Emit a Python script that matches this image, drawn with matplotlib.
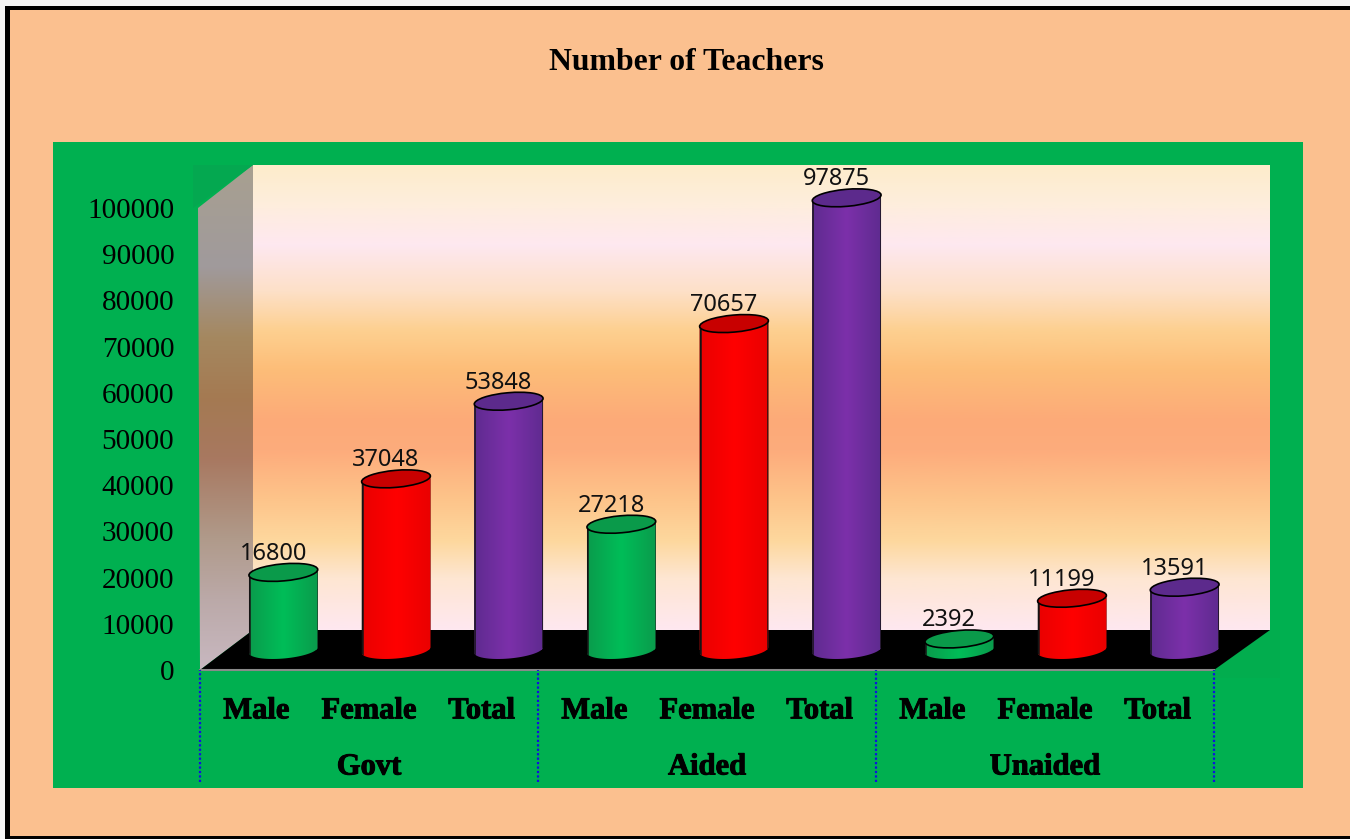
import numpy as np
import matplotlib
matplotlib.use('Agg')
import matplotlib.pyplot as plt
import matplotlib.patheffects as pe
from matplotlib.colors import LinearSegmentedColormap
from matplotlib.patches import Ellipse, Polygon, Rectangle
from matplotlib.path import Path
from matplotlib.transforms import Affine2D, IdentityTransform, blended_transform_factory

groups = ['Govt', 'Aided', 'Unaided']
categories = ['Male', 'Female', 'Total'] * 3
values = [16800, 37048, 53848, 27218, 70657, 97875, 2392, 11199, 13591]
yticks = list(range(0, 100001, 10000))

PAGE = '#fbc08f'
GREEN = '#00b050'
# centre of the body, edge of the body, top cap
shades = {
    'Male': ('#00bd58', '#0a9c4c', '#0a9a4a'),
    'Female': ('#ff0000', '#ea0000', '#c80000'),
    'Total': ('#7c30aa', '#5f2b90', '#5c2a8c'),
}
serif = 'Liberation Serif'
strike = [pe.withStroke(linewidth=0.7, foreground='black')]

fig = plt.figure(figsize=(13.5, 8.39), dpi=100, facecolor='#f6f6f6')

# backdrop, in pixel coordinates of the picture
bg = fig.add_axes([0, 0, 1, 1])
bg.set_xlim(0, 1350)
bg.set_ylim(839, 0)
bg.axis('off')
bg.add_patch(Rectangle((5, 6), 1345, 833, fc='black', ec='none'))
bg.add_patch(Rectangle((10, 10), 1340, 826, fc=PAGE, ec='none'))
bg.add_patch(Rectangle((53, 142), 1250, 646, fc=GREEN, ec='none'))
bg.add_patch(Rectangle((253, 158), 1026, 480, fc='#03ad50', ec='none', zorder=0.5))

wall_cmap = LinearSegmentedColormap.from_list('wall', [
    (0.0, '#fdeccb'), (0.075, '#feeedb'), (0.17, '#fee8f0'), (0.27, '#fde0c8'),
    (0.355, '#fdd090'), (0.44, '#fdbd78'), (0.55, '#fcaa78'), (0.615, '#fdac7c'),
    (0.72, '#fdc48a'), (0.81, '#fdd89e'), (0.89, '#fee6d2'), (1.0, '#fee8f0')])
bg.imshow(np.linspace(0, 1, 256).reshape(-1, 1), cmap=wall_cmap, aspect='auto',
          extent=(253, 1270, 630, 165), zorder=1)

side_cmap = LinearSegmentedColormap.from_list('side', [
    (0.0, '#a8a090'), (0.2, '#a09a9c'), (0.34, '#a58860'), (0.46, '#a47a52'),
    (0.58, '#a87860'), (0.74, '#b09a8a'), (0.86, '#bba9a8'), (1.0, '#c8b8c0')])
side = Polygon([(198, 208), (253, 165), (253, 630), (200, 670)], fc='none', ec='none', zorder=1)
bg.add_patch(side)
im = bg.imshow(np.linspace(0, 1, 256).reshape(-1, 1), cmap=side_cmap, aspect='auto',
               extent=(198, 253, 670, 165), zorder=1)
im.set_clip_path(side)
bg.add_patch(Polygon([(193, 208), (193, 165), (253, 165)], fc='#04a850', ec='none', zorder=2))
bg.add_patch(Polygon([(1214, 670), (1270, 630), (1280, 630), (1280, 678), (1214, 678)],
                     fc='#02ad4e', ec='none', zorder=1))
bg.add_patch(Polygon([(200, 670), (253, 630), (1270, 630), (1214, 670)], fc='black', ec='none', zorder=2))
bg.set_xlim(0, 1350)
bg.set_ylim(839, 0)

fig.text(686 / 1350, 1 - 63 / 839, 'Number of Teachers', family=serif, weight='bold',
         fontsize=22.9, ha='center', va='center')

# chart axes, front plane of the 3D box
ax = fig.add_axes([200 / 1350, (839 - 670) / 839, 1014 / 1350, 462 / 839])
ax.patch.set_alpha(0)
ax.set_xlim(0, 9)
ax.set_ylim(0, 100000)
ax.set_autoscale_on(False)
for s in ['top', 'right', 'left']:
    ax.spines[s].set_visible(False)
ax.spines['bottom'].set_color('#8a8a8a')
ax.spines['bottom'].set_linewidth(1.5)

ax.set_yticks(yticks)
ax.set_yticklabels([str(t) for t in yticks], family=serif, fontsize=21)
ax.tick_params(axis='y', length=0, pad=18.5)
xpos = np.arange(len(values)) + 0.5
ax.set_xticks(xpos)
ax.set_xticklabels(categories, family=serif, weight='bold', fontsize=22, path_effects=strike)
ax.tick_params(axis='x', length=0, pad=19)

# group labels and dotted separators below the axis
for i, g in enumerate(groups):
    ax.annotate(g, xy=(3 * i + 1.5, 0), xycoords=('data', 'axes fraction'),
                xytext=(0, -97), textcoords='offset pixels', ha='center', va='center',
                family=serif, weight='bold', fontsize=22, annotation_clip=False,
                path_effects=strike)
sep = blended_transform_factory(ax.transData, ax.transAxes)
ax.vlines([0, 3, 6, 9], -112 / 462, 0, transform=sep, colors='#1010e0', linestyles=(0, (1, 1)),
          linewidth=1.6, clip_on=False, zorder=3)

# cylinders sit back from the front plane
depth = Affine2D().translate(27, 20)
trans = ax.transData + depth
bar_w = 69 / (1014 / 9)
a, b = 34.5, 8.5
tilt = np.deg2rad(5)
grad = np.abs(np.linspace(-1, 1, 64)).reshape(1, -1)


def cylinder_outline(tx, ty, cx, cy):
    # top edge across the cap, then down a side and round the lower half of the base
    t = np.linspace(np.pi, 2 * np.pi, 40)
    arc_x = a * np.cos(t) * np.cos(tilt) - b * np.sin(t) * np.sin(tilt)
    arc_y = a * np.cos(t) * np.sin(tilt) + b * np.sin(t) * np.cos(tilt)
    xs = np.concatenate([[tx + arc_x[0]], cx + arc_x, [tx + arc_x[-1]]])
    ys = np.concatenate([[ty + arc_y[0]], cy + arc_y, [ty + arc_y[-1]]])
    return Path(np.column_stack([xs, ys]))


def clip_to(artist, path):
    # the cylinder shape clips; the box is the whole figure so the axes box does not
    artist.set_clip_path(path, IdentityTransform())
    artist.set_clip_box(fig.bbox)


for x, v, cat in zip(xpos, values, categories):
    mid, low, top = shades[cat]
    cmap = LinearSegmentedColormap.from_list(cat, [mid, low])
    cx, cy = trans.transform((x, 0))
    tx, ty = trans.transform((x, v))
    outline = cylinder_outline(tx, ty, cx, cy)

    bar = ax.bar(x, v, width=bar_w, transform=trans, color=mid, zorder=4)[0]
    clip_to(bar, outline)
    body = ax.imshow(grad, cmap=cmap, aspect='auto', vmin=0, vmax=1, origin='lower',
                     extent=(x - bar_w / 2, x + bar_w / 2, -5000, v + 3000), transform=trans,
                     zorder=4.5)
    clip_to(body, outline)
    sides = ax.vlines([x - bar_w / 2, x + bar_w / 2], -5000, v + 3000, transform=trans,
                      colors='#141414', linewidth=1.8, zorder=5)
    clip_to(sides, outline)

    ax.add_patch(Ellipse((0, 0), 2 * a, 2 * b, angle=5, fc=top, ec='black', linewidth=1.2,
                         transform=Affine2D().translate(tx, ty), zorder=6, clip_on=False))
    ax.annotate(str(v), xy=(x, v), xycoords=trans, xytext=(-10, 18.5),
                textcoords='offset pixels', ha='center', va='center', family='Noto Sans',
                fontsize=17, color='#111111', zorder=7, annotation_clip=False)

ax.set_xlim(0, 9)
ax.set_ylim(0, 100000)

fig.savefig('out.png', dpi=100, facecolor=fig.get_facecolor())
